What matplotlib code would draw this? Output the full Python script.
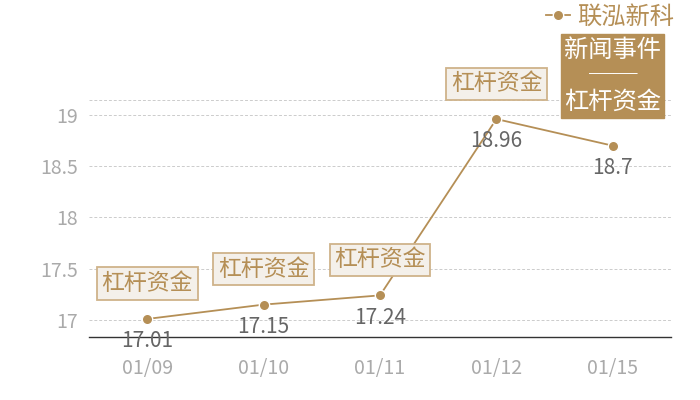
import matplotlib
matplotlib.use("Agg")
import matplotlib.pyplot as plt
from matplotlib.lines import Line2D

plt.rcParams['font.family'] = ['Noto Sans CJK SC', 'DejaVu Sans']

# data
dates = ['01/09', '01/10', '01/11', '01/12', '01/15']
prices = [17.01, 17.15, 17.24, 18.96, 18.7]
events = ['杠杆资金', '杠杆资金', '杠杆资金', '杠杆资金', '新闻事件\n──\n杠杆资金']
series_name = '联泓新科'
y_ticks = [17, 17.5, 18, 18.5, 19]

gold = '#b58f56'
box_fill = '#f4f0ea'
box_edge = '#cfb38a'

fig = plt.figure(figsize=(7, 4), dpi=100)
ax = fig.add_axes([89 / 700, 63 / 400, 582 / 700, 237 / 400])

x = list(range(len(dates)))
ax.plot(x, prices, color=gold, lw=1.3, marker='o', ms=7.5,
        mfc=gold, mec='white', mew=1, zorder=3)

# value labels under the points
for xi, v in zip(x, prices):
    ax.annotate(f'{v:g}', (xi, v), xytext=(0, -16), textcoords='offset points',
                ha='center', va='center', fontsize=15, color='#666666', zorder=4)

# event boxes above the points, the last one highlighted
for i, (xi, v, ev) in enumerate(zip(x, prices, events)):
    if i == len(x) - 1:
        ax.annotate(ev, (xi, v), xytext=(0, 50), textcoords='offset points',
                    ha='center', va='center', fontsize=17.5, color='white',
                    linespacing=1.0, multialignment='center',
                    bbox=dict(boxstyle='square,pad=0.12', fc=gold, ec=gold),
                    annotation_clip=False, zorder=5)
    else:
        ax.annotate(ev, (xi, v), xytext=(0, 25.5), textcoords='offset points',
                    ha='center', va='center', fontsize=16.5, color=gold,
                    bbox=dict(boxstyle='square,pad=0.2', fc=box_fill,
                              ec=box_edge, lw=1.3),
                    annotation_clip=False, zorder=5)

ax.set_xlim(-0.5, len(dates) - 0.5)
ax.set_ylim(16.834, 19.146)
ax.set_xticks(x)
ax.set_xticklabels(dates)
ax.set_yticks(y_ticks)
ax.set_yticklabels([f'{t:g}' for t in y_ticks])
ax.tick_params(axis='both', length=0, colors='#aaaaaa', labelsize=14)
ax.tick_params(axis='x', pad=15)
ax.tick_params(axis='y', pad=8)

ax.grid(axis='y', color='#cccccc', ls=(0, (3, 2)), lw=0.7)
ax.axhline(19.146, color='#cccccc', ls=(0, (3, 2)), lw=0.7, clip_on=False)
for s in ['top', 'right', 'left']:
    ax.spines[s].set_visible(False)
ax.spines['bottom'].set_color('#333333')
ax.spines['bottom'].set_linewidth(1)

handle = Line2D([], [], color=gold, lw=1.3, marker='o', ms=7.5,
                mfc=gold, mec='white', mew=1)
fig.legend([handle], [series_name], loc='center right',
           bbox_to_anchor=(684 / 700, 1 - 17 / 400), frameon=False,
           fontsize=17.5, labelcolor=gold, handlelength=1.0,
           handletextpad=0.3, borderaxespad=0)

fig.savefig('out.png', dpi=100)
